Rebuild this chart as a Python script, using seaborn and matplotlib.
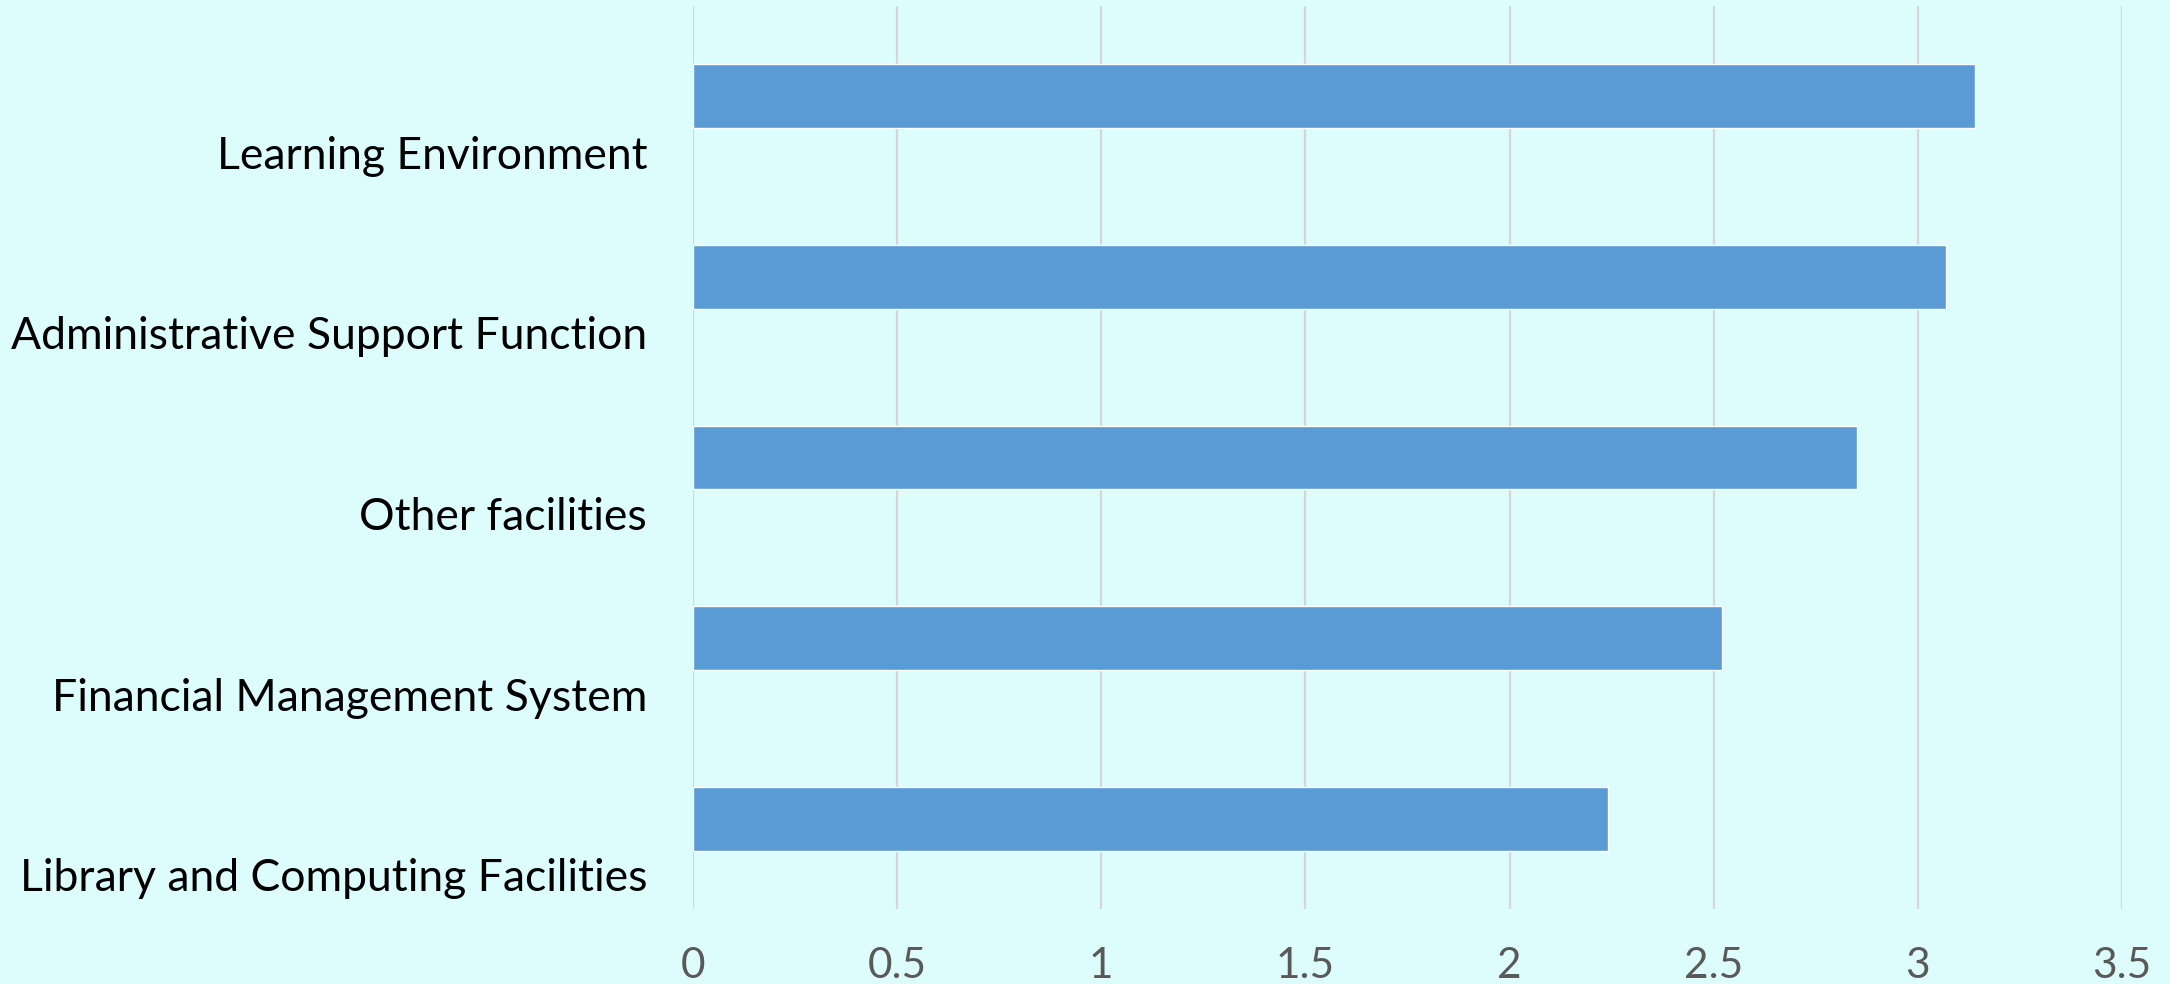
import numpy as np
import pandas as pd
import matplotlib
matplotlib.use("Agg")
import matplotlib.pyplot as plt
import matplotlib.transforms as mtransforms
import seaborn as sns

categories = ["Learning Environment", "Administrative Support Function",
              "Other facilities", "Financial Management System",
              "Library and Computing Facilities"]
values = [3.14, 3.07, 2.85, 2.52, 2.24]
xticks = [0, 0.5, 1, 1.5, 2, 2.5, 3, 3.5]
xtick_labels = ["0", "0.5", "1", "1.5", "2", "2.5", "3", "3.5"]

df = pd.DataFrame({"category": categories, "value": values})

sns.set_theme(style="white")
plt.rcParams["font.family"] = ["Lato", "DejaVu Sans"]

BG = "#ddfcfc"
fig = plt.figure(figsize=(21.7, 9.84), dpi=100, facecolor=BG)
ax = fig.add_axes([693/2170, 1-909/984, (2122-693)/2170, (909-6)/984])
ax.set_facecolor(BG)

sns.barplot(data=df, x="value", y="category", orient="h", color="#5B9BD5",
            width=0.354, saturation=1, ax=ax, zorder=3)

ax.set_xlim(0, 3.5)
ax.set_ylim(4.5, -0.5)
ax.set_xticks(xticks)
ax.set_xticklabels(xtick_labels)
ax.grid(axis="x", color="#d6d6d6", linewidth=1.6, zorder=0)
ax.grid(axis="y", visible=False)
for s in ax.spines.values():
    s.set_visible(False)
ax.set_xlabel("")
ax.set_ylabel("")
ax.tick_params(axis="x", length=0, pad=27, labelsize=30.5, labelcolor="#595959")
ax.tick_params(axis="y", length=0, pad=33, labelsize=32, labelcolor="#000000")

offset = mtransforms.ScaledTranslation(0, -0.56, fig.dpi_scale_trans)
for lab in ax.get_yticklabels():
    lab.set_transform(lab.get_transform() + offset)

fig.savefig("out.png", dpi=100, facecolor=BG)
